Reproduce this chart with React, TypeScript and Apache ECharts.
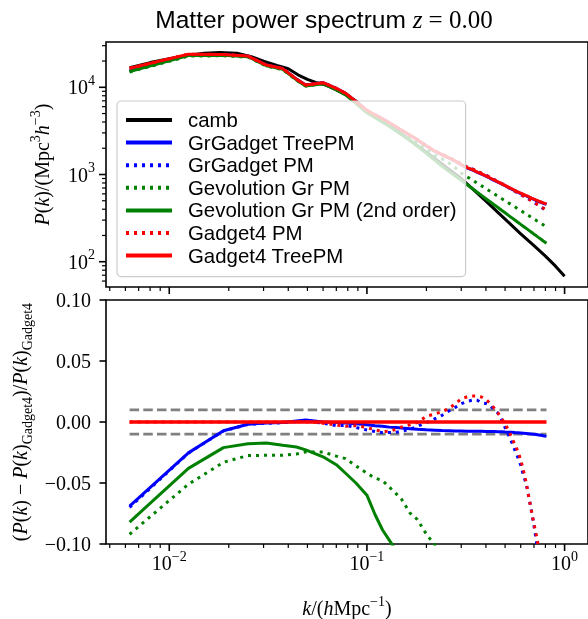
import { useEffect, useRef } from "react";
import * as echarts from "echarts";

// ---------- data ----------
const kSim = [0.0063, 0.0125, 0.0188, 0.025, 0.031, 0.0375, 0.044, 0.049, 0.06, 0.07, 0.078, 0.088, 0.1, 0.11, 0.12, 0.13, 0.14, 0.15, 0.165, 0.18, 0.2, 0.22, 0.24, 0.26, 0.28, 0.3, 0.32, 0.34, 0.36, 0.38, 0.4, 0.42, 0.44, 0.46, 0.48, 0.5, 0.52, 0.54, 0.56, 0.58, 0.6, 0.62, 0.64, 0.66, 0.68, 0.7, 0.72, 0.74, 0.76, 0.78, 0.81];

const kCamb = [0.0063, 0.008, 0.01, 0.0125, 0.015, 0.018, 0.022, 0.026, 0.03, 0.035, 0.04, 0.045, 0.05, 0.055, 0.06, 0.065, 0.07, 0.08, 0.09, 0.1, 0.12, 0.15, 0.2, 0.25, 0.3, 0.4, 0.5, 0.6, 0.7, 0.8, 0.9, 1.0];
const pCamb = [16800, 19200, 21300, 23300, 24500, 25000, 24600, 22500, 19900, 17800, 16300, 13800, 12300, 11400, 10850, 10100, 9350, 8000, 6700, 5350, 4150, 2900, 1800, 1230, 900, 494, 308, 209, 153, 116, 89, 68];

const pGrGadgetTree = [15360, 23390, 23630, 22760, 17990, 16390, 12410, 10620, 11300, 9746, 8533, 6890, 5418, 4825, 4350, 3908, 3534, 3204, 2814, 2495, 2126, 1848, 1678, 1539, 1419, 1295, 1191, 1134, 1066, 1008, 959, 905, 858, 817, 779, 744, 710, 681, 652, 626, 605, 585, 568, 551, 533, 517, 503, 490, 479, 468, 454];
const pGrGadgetPM = [15350, 23390, 23630, 22750, 17980, 16390, 12400, 10610, 11290, 9720, 8520, 6870, 5395, 4800, 4330, 3890, 3520, 3196, 2813, 2501, 2139, 1865, 1699, 1564, 1447, 1325, 1220, 1163, 1093, 1032, 981, 924, 874, 830, 787, 747, 708, 676, 643, 614, 588, 564, 544, 522, 499, 478, 458, 441, 424, 407, 383];
const pGevolutionPM = [14980, 22780, 23010, 22170, 17510, 15950, 12080, 10340, 11020, 9480, 8280, 6650, 5200, 4620, 4155, 3715, 3340, 3015, 2620, 2310, 1945, 1675, 1505, 1355, 1195, 1040, 946, 869, 800, 741, 688, 642, 600, 564, 530, 500, 473, 449, 426, 405, 386, 368, 352, 337, 322, 309, 297, 286, 275, 265, 251];
const pGevolution2nd = [15150, 23090, 23300, 22390, 17690, 16090, 12150, 10360, 10980, 9410, 8180, 6560, 5100, 4470, 3980, 3545, 3180, 2850, 2460, 2110, 1750, 1460, 1245, 1087, 960, 857, 769, 695, 631, 577, 528, 487, 451, 419, 389, 364, 340, 320, 301, 284, 268, 254, 241, 229, 218, 207, 198, 189, 181, 173, 163];
const pGadget4PM = [16500, 24000, 23800, 22800, 18000, 16400, 12400, 10600, 11290, 9725, 8510, 6880, 5405, 4810, 4330, 3895, 3530, 3207, 2824, 2509, 2150, 1872, 1704, 1567, 1451, 1330, 1225, 1167, 1097, 1037, 984, 926, 875, 830, 787, 749, 711, 678, 646, 617, 591, 566, 544, 522, 499, 478, 461, 444, 427, 412, 388];
const pGadget4Tree = [16500, 24000, 23800, 22800, 18000, 16400, 12400, 10600, 11300, 9750, 8540, 6900, 5430, 4840, 4365, 3925, 3550, 3220, 2830, 2510, 2140, 1860, 1690, 1550, 1430, 1305, 1200, 1143, 1074, 1016, 966, 912, 865, 824, 785, 750, 716, 687, 658, 632, 610, 590, 573, 556, 538, 522, 508, 495, 484, 473, 459];

// relative difference to Gadget4 TreePM (lower panel)
const rGrGadgetTree = [-0.069, -0.0253, -0.0072, -0.0018, -0.0008, -0.0004, 0.0008, 0.0016, 0.0, -0.0004, -0.0008, -0.0014, -0.0022, -0.003, -0.0035, -0.0042, -0.0046, -0.005, -0.0055, -0.006, -0.0064, -0.0067, -0.007, -0.0072, -0.0074, -0.0074, -0.0075, -0.0075, -0.0076, -0.0076, -0.0077, -0.0077, -0.0078, -0.0079, -0.008, -0.0082, -0.0083, -0.0085, -0.0087, -0.0088, -0.009, -0.0092, -0.0094, -0.0096, -0.0098, -0.01, -0.0103, -0.0106, -0.0109, -0.0113, -0.0118];
const rGrGadgetPM = [-0.07, -0.0255, -0.0073, -0.002, -0.001, -0.0006, 0.0003, 0.0008, -0.001, -0.003, -0.0028, -0.0045, -0.0066, -0.0078, -0.0087, -0.0087, -0.0085, -0.0075, -0.006, -0.0035, -0.0005, 0.0025, 0.0055, 0.009, 0.012, 0.015, 0.0168, 0.0178, 0.018, 0.0158, 0.0152, 0.0135, 0.01, 0.0072, 0.002, -0.0046, -0.0105, -0.0165, -0.023, -0.029, -0.0355, -0.044, -0.051, -0.062, -0.073, -0.085, -0.098, -0.11, -0.125, -0.14, -0.165];
const rGevolutionPM = [-0.092, -0.051, -0.033, -0.0275, -0.0273, -0.0273, -0.0262, -0.0245, -0.0245, -0.028, -0.03, -0.036, -0.042, -0.046, -0.048, -0.0535, -0.0585, -0.0635, -0.0745, -0.08, -0.092, -0.1005, -0.11, -0.125];
const rGevolution2nd = [-0.082, -0.038, -0.021, -0.0178, -0.0172, -0.019, -0.0205, -0.0228, -0.0285, -0.035, -0.042, -0.05, -0.06, -0.076, -0.0885, -0.097, -0.105, -0.114, -0.13];
const rGadget4PM = [0, 0, 0, 0, 0, 0, 0.0003, 0.0003, -0.001, -0.0025, -0.0035, -0.003, -0.0045, -0.0065, -0.0078, -0.0075, -0.006, -0.004, -0.0022, -0.0005, 0.0048, 0.0065, 0.0085, 0.011, 0.015, 0.019, 0.0205, 0.0213, 0.0213, 0.0205, 0.0185, 0.0153, 0.0115, 0.0075, 0.0028, -0.0012, -0.0068, -0.0125, -0.0183, -0.024, -0.031, -0.04, -0.05, -0.062, -0.073, -0.0835, -0.093, -0.104, -0.118, -0.13, -0.155];
const rGadget4Tree = [0, 0, 0, 0, 0, 0, 0, 0, 0, 0, 0, 0, 0, 0, 0, 0, 0, 0, 0, 0, 0, 0, 0, 0, 0, 0, 0, 0, 0, 0, 0, 0, 0, 0, 0, 0, 0, 0, 0, 0, 0, 0, 0, 0, 0, 0, 0, 0, 0, 0, 0];

const bandK = [0.0063, 0.81];
const bandLevels = [0.01, -0.01];

const xMajorTicks = [0.01, 0.1, 1];
const xMinorTicks = [0.005, 0.006, 0.007, 0.008, 0.009, 0.02, 0.03, 0.04, 0.05, 0.06, 0.07, 0.08, 0.09, 0.2, 0.3, 0.4, 0.5, 0.6, 0.7, 0.8, 0.9];
const yTopMajorTicks = [100, 1000, 10000];
const yTopMinorTicks = [60, 70, 80, 90, 200, 300, 400, 500, 600, 700, 800, 900, 2000, 3000, 4000, 5000, 6000, 7000, 8000, 9000, 20000, 30000];

const legendNames = ["camb", "GrGadget TreePM", "GrGadget PM", "Gevolution Gr PM", "Gevolution Gr PM (2nd order)", "Gadget4 PM", "Gadget4 TreePM"];

// ---------- style ----------
const SERIF = "'Liberation Serif', 'DejaVu Serif', serif";
const SANS = "'Liberation Sans', 'DejaVu Sans', sans-serif";
const X_MIN = 0.004786;
const X_MAX = 1.3136;
const Y_MIN = 51.3;
const Y_MAX = 33070;
const DOT = [3, 5];

function pairs(ks: number[], vs: number[]) {
  return vs.map((v, i) => [ks[i], v]);
}

function powerLabel(v: number) {
  const l = Math.log10(v);
  const e = Math.round(l);
  if (Math.abs(l - e) > 1e-6) return "";
  return `{b|10}{s|${e < 0 ? "\u2212" + -e : e}}`;
}

const powerRich = {
  b: { fontFamily: SERIF, fontSize: 20, color: "#000", lineHeight: 28, verticalAlign: "middle" },
  s: { fontFamily: SERIF, fontSize: 14, color: "#000", lineHeight: 14, verticalAlign: "top" },
};

const mathRich = {
  r: { fontFamily: SERIF, fontSize: 20, color: "#000", lineHeight: 28, verticalAlign: "middle" },
  i: { fontFamily: SERIF, fontStyle: "italic", fontSize: 20, color: "#000", lineHeight: 28, verticalAlign: "middle" },
  s: { fontFamily: SERIF, fontSize: 14, color: "#000", lineHeight: 14, verticalAlign: "top" },
  u: { fontFamily: SERIF, fontSize: 14, color: "#000", lineHeight: 14, verticalAlign: "bottom" },
};

function tickSeries(grid: number, values: number[], axis: "x" | "y", len: number, width: number) {
  const ref = grid === 0 ? 1000 : 0;
  return {
    type: "custom",
    xAxisIndex: grid,
    yAxisIndex: grid,
    silent: true,
    clip: false,
    z: 10,
    data: values.map((v) => (axis === "x" ? [v, ref] : [0.1, v])),
    renderItem: (params: any, api: any) => {
      const cs = params.coordSys;
      const p = api.coord([api.value(0), api.value(1)]);
      if (axis === "x") {
        const y0 = cs.y + cs.height;
        return { type: "line", shape: { x1: p[0], y1: y0, x2: p[0], y2: y0 + len }, style: { stroke: "#000", lineWidth: width } };
      }
      const x0 = cs.x;
      return { type: "line", shape: { x1: x0 - len, y1: p[1], x2: x0, y2: p[1] }, style: { stroke: "#000", lineWidth: width } };
    },
  };
}

function lineSeries(name: string, grid: number, data: number[][], color: string, dotted: boolean, width = 3) {
  return {
    type: "line",
    name,
    xAxisIndex: grid,
    yAxisIndex: grid,
    data,
    symbol: "none",
    showSymbol: false,
    silent: true,
    z: 2,
    itemStyle: { color },
    lineStyle: { color, width, type: dotted ? DOT : "solid", cap: "butt" },
    emphasis: { disabled: true },
  };
}

export default function App() {
  const ref = useRef<HTMLDivElement>(null);

  useEffect(() => {
    if (!ref.current) return;
    const chart = echarts.init(ref.current, undefined, { renderer: "svg" });

    const xAxisBase = {
      type: "log",
      logBase: 10,
      min: X_MIN,
      max: X_MAX,
      axisLine: { show: false },
      axisTick: { show: false },
      splitLine: { show: false },
      minorTick: { show: false },
    };

    const option: any = {
      animation: false,
      grid: [
        { left: 106, top: 42, width: 484, height: 245, show: true, borderColor: "#000", borderWidth: 1.6, backgroundColor: "transparent" },
        { left: 106, top: 300, width: 484, height: 244, show: true, borderColor: "#000", borderWidth: 1.6, backgroundColor: "transparent" },
      ],
      xAxis: [
        { ...xAxisBase, gridIndex: 0, axisLabel: { show: false } },
        {
          ...xAxisBase,
          gridIndex: 1,
          axisLabel: { show: true, margin: 5, formatter: powerLabel, rich: powerRich, showMinLabel: false, showMaxLabel: false },
        },
      ],
      yAxis: [
        {
          type: "log",
          logBase: 10,
          gridIndex: 0,
          min: Y_MIN,
          max: Y_MAX,
          axisLine: { show: false },
          axisTick: { show: false },
          splitLine: { show: false },
          axisLabel: { show: true, margin: 11, formatter: powerLabel, rich: powerRich, showMinLabel: false, showMaxLabel: false },
        },
        {
          type: "value",
          gridIndex: 1,
          min: -0.1,
          max: 0.1,
          interval: 0.05,
          axisLine: { show: false },
          axisTick: { show: true, length: 6.5, lineStyle: { color: "#000", width: 1.6 } },
          splitLine: { show: false },
          axisLabel: {
            show: true,
            margin: 15,
            color: "#000",
            fontFamily: SERIF,
            fontSize: 20,
            formatter: (v: number) => (v < -1e-9 ? "\u2212" : "") + Math.abs(v).toFixed(2),
          },
        },
      ],
      legend: {
        data: legendNames,
        orient: "vertical",
        left: 117,
        top: 101,
        itemWidth: 46,
        itemHeight: 20,
        itemGap: 2.6,
        padding: [9, 9, 11, 7],
        backgroundColor: "rgba(255,255,255,0.8)",
        borderColor: "#cccccc",
        borderWidth: 1.2,
        borderRadius: 4,
        selectedMode: false,
        itemStyle: { opacity: 0 },
        lineStyle: { width: 4 },
        textStyle: { fontFamily: SANS, fontSize: 20.4, color: "#000", lineHeight: 20, padding: [0, 0, 0, 11] },
      },
      graphic: {
        elements: [
          {
            type: "text",
            x: 324,
            y: 19,
            style: {
              text: "{a|Matter power spectrum }{z|z}{c| = 0.00}",
              align: "center",
              verticalAlign: "middle",
              rich: {
                a: { fontFamily: SANS, fontSize: 24.5, color: "#000" },
                z: { fontFamily: SERIF, fontStyle: "italic", fontSize: 25, color: "#000" },
                c: { fontFamily: SERIF, fontSize: 25, color: "#000" },
              },
            },
          },
          {
            type: "text",
            x: 42,
            y: 164.5,
            rotation: Math.PI / 2,
            style: {
              text: "{i|P}{r|(}{i|k}{r|)/(Mpc}{s|3}{i|h}{s|\u22123}{r|)}",
              align: "center",
              verticalAlign: "middle",
              rich: mathRich,
            },
          },
          {
            type: "text",
            x: 20,
            y: 422,
            rotation: Math.PI / 2,
            style: {
              text: "{r|(}{i|P}{r|(}{i|k}{r|) \u2212 }{i|P}{r|(}{i|k}{r|)}{u|Gadget4}{r|)/}{i|P}{r|(}{i|k}{r|)}{u|Gadget4}",
              align: "center",
              verticalAlign: "middle",
              rich: mathRich,
            },
          },
          {
            type: "text",
            x: 347,
            y: 608,
            style: {
              text: "{i|k}{r|/(}{i|h}{r|Mpc}{s|\u22121}{r|)}",
              align: "center",
              verticalAlign: "middle",
              rich: mathRich,
            },
          },
        ],
      },
      series: [
        // top panel
        lineSeries("camb", 0, pairs(kCamb, pCamb), "#000000", false),
        lineSeries("GrGadget TreePM", 0, pairs(kSim, pGrGadgetTree), "#0000ff", false),
        lineSeries("GrGadget PM", 0, pairs(kSim, pGrGadgetPM), "#0000ff", true),
        lineSeries("Gevolution Gr PM", 0, pairs(kSim, pGevolutionPM), "#008000", true),
        lineSeries("Gevolution Gr PM (2nd order)", 0, pairs(kSim, pGevolution2nd), "#008000", false),
        lineSeries("Gadget4 PM", 0, pairs(kSim, pGadget4PM), "#ff0000", true),
        lineSeries("Gadget4 TreePM", 0, pairs(kSim, pGadget4Tree), "#ff0000", false),
        // bottom panel
        {
          type: "line",
          name: "band upper",
          xAxisIndex: 1,
          yAxisIndex: 1,
          data: pairs(bandK, [bandLevels[0], bandLevels[0]]),
          symbol: "none",
          silent: true,
          z: 1,
          lineStyle: { color: "#808080", width: 2.8, type: [9.5, 4.2], cap: "butt" },
        },
        {
          type: "line",
          name: "band lower",
          xAxisIndex: 1,
          yAxisIndex: 1,
          data: pairs(bandK, [bandLevels[1], bandLevels[1]]),
          symbol: "none",
          silent: true,
          z: 1,
          lineStyle: { color: "#808080", width: 2.8, type: [9.5, 4.2], cap: "butt" },
        },
        lineSeries("GrGadget TreePM", 1, pairs(kSim, rGrGadgetTree), "#0000ff", false),
        lineSeries("GrGadget PM", 1, pairs(kSim, rGrGadgetPM), "#0000ff", true),
        lineSeries("Gevolution Gr PM", 1, pairs(kSim, rGevolutionPM), "#008000", true),
        lineSeries("Gevolution Gr PM (2nd order)", 1, pairs(kSim, rGevolution2nd), "#008000", false),
        lineSeries("Gadget4 PM", 1, pairs(kSim, rGadget4PM), "#ff0000", true),
        lineSeries("Gadget4 TreePM", 1, pairs(kSim, rGadget4Tree), "#ff0000", false, 3.5),
        // ticks
        tickSeries(0, xMajorTicks, "x", 7, 1.6),
        tickSeries(0, xMinorTicks, "x", 4, 1.2),
        tickSeries(1, xMajorTicks, "x", 7, 1.6),
        tickSeries(1, xMinorTicks, "x", 4, 1.2),
        tickSeries(0, yTopMajorTicks, "y", 7, 1.6),
        tickSeries(0, yTopMinorTicks, "y", 4, 1.2),
      ],
    };

    chart.setOption(option);
    return () => chart.dispose();
  }, []);

  return <div ref={ref} style={{ position: "fixed", left: 0, top: 0, width: 588, height: 619 }} />;
}
